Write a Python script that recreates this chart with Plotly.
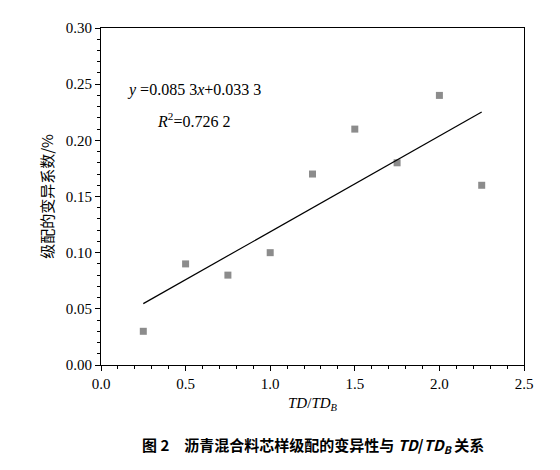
import plotly.graph_objects as go

td_ratio = [0.25, 0.5, 0.75, 1.0, 1.25, 1.5, 1.75, 2.0, 2.25]
cv = [0.03, 0.09, 0.08, 0.10, 0.17, 0.21, 0.18, 0.24, 0.16]
slope, intercept = 0.0853, 0.0333
fit_x = [0.25, 2.25]
fit_y = [slope * x + intercept for x in fit_x]

serif = "'Liberation Serif', 'Times New Roman', 'DejaVu Serif', serif"
cjk = "'Noto Sans CJK SC', sans-serif"

fig = go.Figure()
fig.add_trace(go.Scatter(x=td_ratio, y=cv, mode="markers",
                         marker=dict(symbol="square", size=7, color="#8c8c8c")))
fig.add_trace(go.Scatter(x=fit_x, y=fit_y, mode="lines", line=dict(color="black", width=1.2)))

axis = dict(showgrid=False, zeroline=False, showline=True, linecolor="black", linewidth=1,
            mirror=True, ticks="outside", ticklen=5, tickcolor="black", automargin=False,
            tickfont=dict(family=serif, size=15, color="black"),
            minor=dict(ticks="outside", ticklen=3, tickcolor="black"))
fig.update_layout(
    width=560, height=470, showlegend=False,
    paper_bgcolor="white", plot_bgcolor="white",
    margin=dict(l=93, r=44, t=20, b=113, autoexpand=False),
    xaxis=dict(axis, range=[0, 2.5], dtick=0.5, tickformat=".1f",
               title=dict(text="<i>TD</i>/<i>TD</i><sub><i>B</i></sub>",
                          font=dict(family=serif, size=15, color="black"), standoff=6)),
    yaxis=dict(axis, range=[0, 0.3], dtick=0.05, tickformat=".2f",
               title=dict(text="级配的变异系数/%", font=dict(family=cjk, size=15, color="black"),
                          standoff=8)),
    annotations=[
        dict(x=0.14, y=0.245, xref="x", yref="y", xanchor="left", showarrow=False,
             text="<i>y</i> =0.085 3<i>x</i>+0.033 3", font=dict(family=serif, size=16, color="black")),
        dict(x=0.32, y=0.218, xref="x", yref="y", xanchor="left", showarrow=False,
             text="<i>R</i><sup>2</sup>=0.726 2", font=dict(family=serif, size=16, color="black")),
        dict(x=0.5, y=-0.2, xref="paper", yref="paper", xanchor="center", yanchor="top",
             showarrow=False,
             text="<b>图 2　沥青混合料芯样级配的变异性与 <i>TD</i>/<i>TD</i><sub><i>B</i></sub> 关系</b>",
             font=dict(family=cjk, size=15, color="black")),
    ],
)
fig.write_html("out.html")
